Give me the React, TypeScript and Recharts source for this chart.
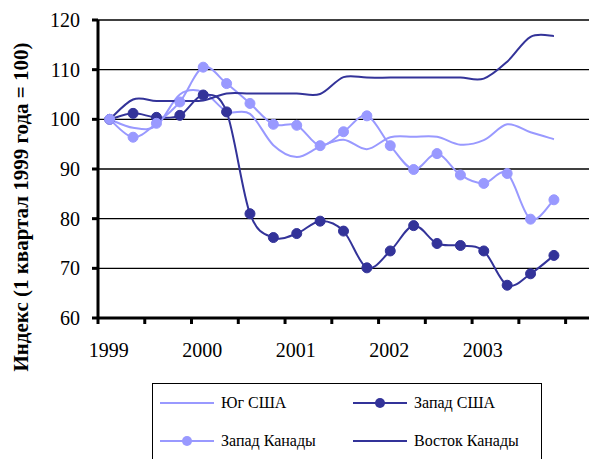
import React from 'react';
import { LineChart, Line, XAxis, YAxis, CartesianGrid } from 'recharts';

// Кварталы 1999 Q1 – 2003 Q4 (20 точек), ось рассчитана на 21 категорию
const kvartaly = [
  '1999 I', '1999 II', '1999 III', '1999 IV',
  '2000 I', '2000 II', '2000 III', '2000 IV',
  '2001 I', '2001 II', '2001 III', '2001 IV',
  '2002 I', '2002 II', '2002 III', '2002 IV',
  '2003 I', '2003 II', '2003 III', '2003 IV',
];
const godaPodpisi = ['1999', '2000', '2001', '2002', '2003'];
const yTicks = [60, 70, 80, 90, 100, 110, 120];

const yugSSHA = [100, 98.3, 98.7, 105.0, 105.5, 101.6, 101.1, 94.8, 92.4, 94.5, 95.9, 94.0, 96.4, 96.5, 96.5, 94.9, 95.8, 99.0, 97.4, 96.0];
const zapadSSHA = [100, 101.2, 100.4, 100.8, 104.9, 101.5, 81.0, 76.2, 77.0, 79.5, 77.5, 70.1, 73.5, 78.6, 75.0, 74.6, 73.5, 66.6, 68.9, 72.6];
const zapadKanady = [100, 96.4, 99.2, 103.5, 110.5, 107.2, 103.2, 99.0, 98.8, 94.7, 97.5, 100.7, 94.7, 89.9, 93.1, 88.8, 87.1, 89.1, 79.9, 83.8];
const vostokKanady = [100, 104.0, 103.7, 103.7, 103.8, 105.2, 105.2, 105.2, 105.2, 105.1, 108.5, 108.4, 108.4, 108.4, 108.4, 108.4, 108.2, 111.6, 116.6, 116.8];

const SVETLYI = '#9999FF';
const TEMNYI = '#333399';
const SHRIFT = '"Liberation Serif", "Times New Roman", serif';

const serii = [
  { key: 'yug', name: 'Юг США', color: SVETLYI, dot: false },
  { key: 'zapUS', name: 'Запад США', color: TEMNYI, dot: true },
  { key: 'zapCa', name: 'Запад Канады', color: SVETLYI, dot: true },
  { key: 'vostCa', name: 'Восток Канады', color: TEMNYI, dot: false },
];

const data = kvartaly.map((k, i) => ({
  i,
  kvartal: k,
  yug: yugSSHA[i],
  zapUS: zapadSSHA[i],
  zapCa: zapadKanady[i],
  vostCa: vostokKanady[i],
}));

// метки делений — через каждые 2 квартала, подписи — по годам
const granicy = Array.from({ length: 11 }, (_, k) => k * 2 - 0.5);
const godaPoz = godaPodpisi.map((_, k) => k * 4);

// сглаживание как в Excel (Catmull-Rom через кривые Безье)
const excelSmooth = (context: any) => {
  let pts: number[][] = [];
  return {
    areaStart() {},
    areaEnd() {},
    lineStart() { pts = []; },
    lineEnd() {
      if (!pts.length) return;
      context.moveTo(pts[0][0], pts[0][1]);
      for (let i = 0; i < pts.length - 1; i++) {
        const p0 = pts[Math.max(i - 1, 0)];
        const p1 = pts[i];
        const p2 = pts[i + 1];
        const p3 = pts[Math.min(i + 2, pts.length - 1)];
        context.bezierCurveTo(
          p1[0] + (p2[0] - p0[0]) / 6, p1[1] + (p2[1] - p0[1]) / 6,
          p2[0] - (p3[0] - p1[0]) / 6, p2[1] - (p3[1] - p1[1]) / 6,
          p2[0], p2[1]
        );
      }
    },
    point(x: number, y: number) { pts.push([+x, +y]); },
  };
};

const XTick = (props: any) => {
  const { x, y, payload } = props;
  const v = payload.value;
  if (Number.isInteger(v)) {
    const idx = godaPoz.indexOf(v);
    return (
      <text x={x - 1} y={y + 39} textAnchor="middle" fontSize={20} fontFamily={SHRIFT} fill="#000">
        {godaPodpisi[idx]}
      </text>
    );
  }
  return <line x1={x} x2={x} y1={y} y2={y + 6} stroke="#000" strokeWidth={3} />;
};

const YTitle = () => (
  <text
    x={21}
    y={207}
    transform="rotate(-90, 21, 207)"
    textAnchor="middle"
    dominantBaseline="central"
    fontSize={21}
    fontWeight="bold"
    fontFamily={SHRIFT}
    fill="#000"
  >
    Индекс (1 квартал 1999 года = 100)
  </text>
);

export default function App() {
  return (
    <div style={{ position: 'absolute', left: 0, top: 0, width: 589, height: 459, overflow: 'hidden', background: '#fff' }}>
      <LineChart width={589} height={459} data={data} margin={{ top: 20, right: 0, left: 0, bottom: 101 }}>
        <CartesianGrid vertical={false} stroke="#000" strokeWidth={1.3} />
        <XAxis
          dataKey="i"
          type="number"
          domain={[-0.5, 20.5]}
          ticks={[...granicy, ...godaPoz]}
          interval={0}
          allowDataOverflow
          height={40}
          tickLine={false}
          tickSize={0}
          tickMargin={0}
          axisLine={{ stroke: '#000', strokeWidth: 3 }}
          tick={<XTick />}
        />
        <YAxis
          domain={[60, 120]}
          ticks={yTicks}
          interval={0}
          width={98}
          tickSize={6}
          tickMargin={12}
          axisLine={{ stroke: '#000', strokeWidth: 3 }}
          tickLine={{ stroke: '#000', strokeWidth: 3 }}
          tick={{ fontSize: 20, fontFamily: SHRIFT, fill: '#000' }}
          label={{ content: () => <YTitle /> }}
        />
        {serii.map((s) => (
          <Line
            key={s.key}
            dataKey={s.key}
            name={s.name}
            type={excelSmooth as any}
            stroke={s.color}
            strokeWidth={2}
            dot={s.dot ? { r: 5, fill: s.color, stroke: s.color, strokeWidth: 1 } : false}
            activeDot={false}
            isAnimationActive={false}
          />
        ))}
      </LineChart>

      {/* легенда */}
      <div
        style={{
          position: 'absolute',
          left: 152,
          top: 383,
          width: 388,
          height: 80,
          border: '1.5px solid #000',
          fontFamily: SHRIFT,
          fontSize: 16,
        }}
      >
        {serii.map((s, idx) => {
          const col = idx % 2;
          const row = Math.floor(idx / 2);
          return (
            <div
              key={s.key}
              style={{
                position: 'absolute',
                left: col === 0 ? 7 : 200,
                top: row === 0 ? 8 : 46,
                display: 'flex',
                alignItems: 'center',
                height: 22,
                whiteSpace: 'nowrap',
              }}
            >
              <svg width={54} height={14} style={{ marginRight: 7 }}>
                <line x1={0} x2={54} y1={7} y2={7} stroke={s.color} strokeWidth={2} />
                {s.dot && <circle cx={27} cy={7} r={5} fill={s.color} />}
              </svg>
              <span>{s.name}</span>
            </div>
          );
        })}
      </div>
    </div>
  );
}
